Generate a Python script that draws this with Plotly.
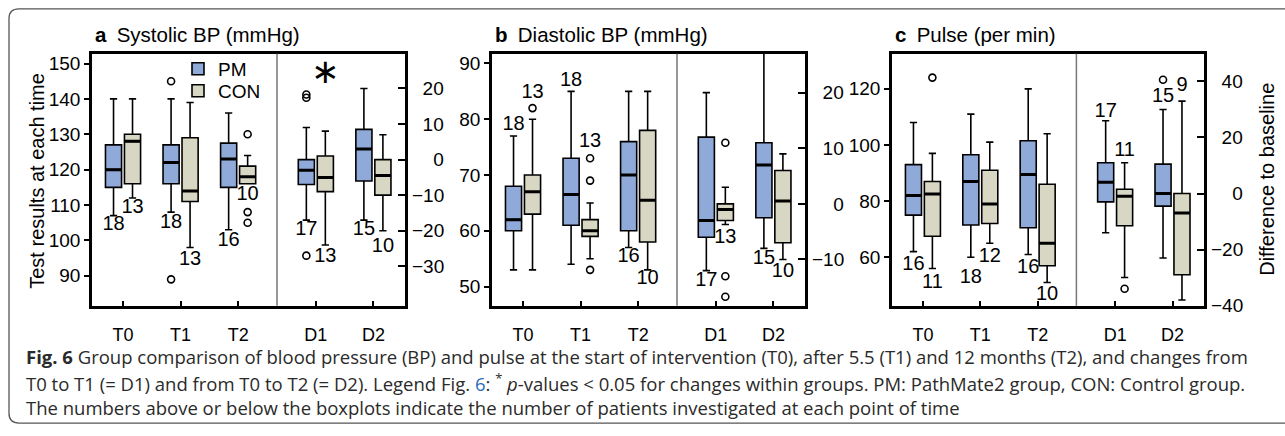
import plotly.graph_objects as go

W, H = 1285, 436

# ---------------- data ----------------
categories = ["T0", "T1", "T2", "D1", "D2"]
groups = ["PM", "CON"]

# Panel a: Systolic BP (mmHg); T0..T2 absolute, D1/D2 difference to baseline
sys_pm_low = [107, 108, 103, -17, -17]
sys_pm_q1 = [115, 116, 115, -7, -6]
sys_pm_med = [120, 122, 123, -3, 3]
sys_pm_q3 = [127, 127, 127.5, 0, 8.5]
sys_pm_high = [140, 140, 136, 9, 20]
sys_pm_out = [[], [145, 89], [], [18.3, 17.4, -27], []]
sys_pm_n = [18, 18, 16, 17, 15]

sys_con_low = [112, 98, 116, -24, -20]
sys_con_q1 = [116, 111, 116, -9, -10]
sys_con_med = [128, 114, 118, -5, -4.5]
sys_con_q3 = [130, 129, 121, 1, 0]
sys_con_high = [140, 139, 124, 8, 7]
sys_con_out = [[], [], [130, 108, 105], [], []]
sys_con_n = [13, 13, 10, 13, 10]

# Panel b: Diastolic BP (mmHg)
dia_pm_low = [53, 54, 57, -12, -8]
dia_pm_q1 = [60, 61, 60, -6, -2.5]
dia_pm_med = [62, 66.5, 70, -3, 7]
dia_pm_q3 = [68, 73, 76, 12, 11]
dia_pm_high = [77, 85, 85, 20, 32]
dia_pm_out = [[], [], [], [], []]
dia_pm_n = [18, 18, 16, 17, 15]

dia_con_low = [53, 55, 53, -3.7, -10]
dia_con_q1 = [63, 59, 58, -3, -7]
dia_con_med = [67, 60, 65.5, -1, 0.5]
dia_con_q3 = [70, 62, 78, 0, 6]
dia_con_high = [80, 65, 85, 3, 9]
dia_con_out = [[82], [73, 69, 53], [], [11, -13, -16.7], []]
dia_con_n = [13, 13, 10, 13, 10]

# Panel c: Pulse (per min)
pul_pm_low = [62, 60, 61, -14, -23]
pul_pm_q1 = [75, 71.5, 70.5, -3, -4.5]
pul_pm_med = [82, 87, 89.5, 4, 0]
pul_pm_q3 = [93, 96.5, 101.5, 11, 10.5]
pul_pm_high = [108, 111, 120, 26, 30]
pul_pm_out = [[], [], [], [], [40.6]]
pul_pm_n = [16, 18, 16, 17, 15]

pul_con_low = [56, 65, 51, -30, -38]
pul_con_q1 = [67.5, 72, 57, -11.5, -29]
pul_con_med = [82.5, 79, 65, -1, -7]
pul_con_q3 = [87, 91, 86, 1.5, 0]
pul_con_high = [97, 101, 104, 11, 33]
pul_con_out = [[124], [], [], [-34], []]
pul_con_n = [11, 12, 10, 11, 9]

# tick labels
sys_left_ticks = [90, 100, 110, 120, 130, 140, 150]
sys_right_ticks = [-30, -20, -10, 0, 10, 20]
dia_left_ticks = [50, 60, 70, 80, 90]
dia_right_ticks = [-10, 0, 10, 20]
pul_left_ticks = [60, 80, 100, 120]
pul_right_ticks = [-40, -20, 0, 20, 40]

# ---------------- placement of the "n" labels (axis units) ----------------
sys_pm_nlab_y = [104.4, 104.9, 99.8, -19.7, -19.7]
sys_con_nlab_y = [109.1, 94.6, 112.7, -27.5, -24.7]
dia_pm_nlab_y = [79.0, 86.8, 55.3, -13.9, -9.9]
dia_con_nlab_y = [84.7, 75.9, 51.3, -6.1, -12.2]
pul_pm_nlab_y = [57.4, 52.7, 56.3, 29.2, 34.5]
pul_con_nlab_y = [51.0, 60.0, 46.6, 15.0, 38.5]

# ---------------- layout / style ----------------
cat_pos = [1, 2, 3, 4.35, 5.35]
grp_off = [-0.165, 0.165]
box_w = 0.28
fills = ["#8fa9d9", "#d8d7c4"]
FONT = "Liberation Sans, Arial, Helvetica, sans-serif"
frame_px = [(92, 405), (492, 805), (892, 1204)]
frame_top, frame_bot = 55, 313
x_range = [0.461, 5.899]
divider_x = 3.675
left_ranges = [[81.52, 152.76], [46.55, 91.75], [42.7, 132.5]]
right_ranges = [[-41.1, 29.75], [-18.33, 27.0], [-40.1, 49.9]]
legend_y_px = [70.5, 93]

panels = [
    dict(title="Systolic BP (mmHg)", letter="a",
         grp=[(sys_pm_low, sys_pm_q1, sys_pm_med, sys_pm_q3, sys_pm_high, sys_pm_out, sys_pm_n, sys_pm_nlab_y),
              (sys_con_low, sys_con_q1, sys_con_med, sys_con_q3, sys_con_high, sys_con_out, sys_con_n, sys_con_nlab_y)],
         lt=sys_left_ticks, rt=sys_right_ticks),
    dict(title="Diastolic BP (mmHg)", letter="b",
         grp=[(dia_pm_low, dia_pm_q1, dia_pm_med, dia_pm_q3, dia_pm_high, dia_pm_out, dia_pm_n, dia_pm_nlab_y),
              (dia_con_low, dia_con_q1, dia_con_med, dia_con_q3, dia_con_high, dia_con_out, dia_con_n, dia_con_nlab_y)],
         lt=dia_left_ticks, rt=dia_right_ticks),
    dict(title="Pulse (per min)", letter="c",
         grp=[(pul_pm_low, pul_pm_q1, pul_pm_med, pul_pm_q3, pul_pm_high, pul_pm_out, pul_pm_n, pul_pm_nlab_y),
              (pul_con_low, pul_con_q1, pul_con_med, pul_con_q3, pul_con_high, pul_con_out, pul_con_n, pul_con_nlab_y)],
         lt=pul_left_ticks, rt=pul_right_ticks),
]


def fmt(v):
    s = str(abs(v))
    s = ("\u2212" + s) if v < 0 else s
    return "\u2007" * (3 - len(s)) + s


fig = go.Figure()
layout = dict(
    width=W, height=H, margin=dict(l=0, r=0, t=0, b=0),
    paper_bgcolor="white", plot_bgcolor="white",
    font=dict(family=FONT, size=19, color="black"),
    showlegend=True,
)
for g in range(2):
    lname = "legend" if g == 0 else "legend2"
    layout[lname] = dict(x=178 / W, y=1 - legend_y_px[g] / H, xanchor="left", yanchor="middle",
                         bgcolor="rgba(0,0,0,0)", font=dict(size=19), itemwidth=30)
shapes, annotations = [], []

for k, P in enumerate(panels):
    xid = "x" if k == 0 else f"x{k + 1}"
    yl = "y" if k == 0 else f"y{2 * k + 1}"
    yr = f"y{2 * k + 2}"
    xname = "xaxis" if k == 0 else f"xaxis{k + 1}"
    ylname = "yaxis" if k == 0 else f"yaxis{2 * k + 1}"
    yrname = f"yaxis{2 * k + 2}"
    L, R = frame_px[k]
    dom_x = [L / W, R / W]
    dom_y = [1 - frame_bot / H, 1 - frame_top / H]

    layout[xname] = dict(domain=dom_x, range=x_range, anchor=yl,
                         tickvals=cat_pos, ticktext=categories,
                         ticks="inside", ticklen=5, tickwidth=1.5, tickcolor="black",
                         showline=True, mirror=True, linewidth=2.5, linecolor="black",
                         showgrid=False, zeroline=False, fixedrange=True,
                         ticklabelstandoff=11,
                         tickfont=dict(size=18, family="Liberation Sans Narrow, Arial Narrow, " + FONT))
    layout[ylname] = dict(domain=dom_y, range=left_ranges[k], anchor=xid,
                          tickvals=P["lt"], ticktext=[str(v) for v in P["lt"]],
                          ticks="outside", ticklen=5, tickwidth=1.5, tickcolor="black",
                          showline=True, mirror=True, linewidth=2.5, linecolor="black",
                          showgrid=False, zeroline=False, fixedrange=True,
                          tickfont=dict(size=19))
    layout[yrname] = dict(range=right_ranges[k], anchor=xid, overlaying=yl, side="right",
                          tickvals=P["rt"], ticktext=[fmt(v) for v in P["rt"]],
                          ticks="inside", ticklen=7, tickwidth=1.5, tickcolor="black",
                          showline=False, showgrid=False, zeroline=False, fixedrange=True,
                          ticklabelstandoff=6, tickfont=dict(size=19))

    for g, (low, q1, med, q3, high, out, n, nly) in enumerate(P["grp"]):
        for part, idxs, yid in (("abs", [0, 1, 2], yl), ("diff", [3, 4], yr)):
            xs = [cat_pos[i] + grp_off[g] for i in idxs]
            fig.add_trace(go.Box(
                x=xs, q1=[q1[i] for i in idxs], median=[med[i] for i in idxs],
                q3=[q3[i] for i in idxs], lowerfence=[low[i] for i in idxs],
                upperfence=[high[i] for i in idxs],
                width=box_w, whiskerwidth=0.45, fillcolor=fills[g],
                line=dict(color="black", width=1.6), boxpoints=False,
                name=groups[g], legendgroup=groups[g],
                legend="legend" if g == 0 else "legend2",
                showlegend=(k == 0 and part == "abs"),
                xaxis=xid, yaxis=yid, hoverinfo="skip"))
            # thicker median bars
            mx, my = [], []
            for i in idxs:
                c = cat_pos[i] + grp_off[g]
                mx += [c - box_w / 2, c + box_w / 2, None]
                my += [med[i], med[i], None]
            fig.add_trace(go.Scatter(x=mx, y=my, mode="lines",
                                     line=dict(color="black", width=3),
                                     showlegend=False, hoverinfo="skip",
                                     xaxis=xid, yaxis=yid))
            # outliers
            ox, oy = [], []
            for i in idxs:
                for v in out[i]:
                    ox.append(cat_pos[i] + grp_off[g])
                    oy.append(v)
            if ox:
                fig.add_trace(go.Scatter(x=ox, y=oy, mode="markers",
                                         marker=dict(symbol="circle-open", size=7, color="black",
                                                     line=dict(width=1.6)),
                                         showlegend=False, hoverinfo="skip", cliponaxis=False,
                                         xaxis=xid, yaxis=yid))
            # n labels
            fig.add_trace(go.Scatter(x=xs, y=[nly[i] for i in idxs], mode="text",
                                     text=[str(n[i]) for i in idxs],
                                     textfont=dict(size=20, color="black"),
                                     textposition="middle center",
                                     showlegend=False, hoverinfo="skip", cliponaxis=False,
                                     xaxis=xid, yaxis=yid))

    # divider between absolute values and differences
    shapes.append(dict(type="line", xref=xid, yref=f"{yl} domain", x0=divider_x, x1=divider_x,
                       y0=0, y1=1, line=dict(color="#777777", width=1.5)))
    # panel title
    annotations.append(dict(text=f"<b>{P['letter']}</b>\u2002{P['title']}", xref="paper", yref="paper",
                            x=(L + 1) / W, y=1 - 35 / H, xanchor="left", yanchor="middle",
                            showarrow=False, font=dict(size=20.5)))

# significance marker (panel a, D1 CON)
annotations.append(dict(text="\u2217", xref="x", yref="y2", x=cat_pos[3] + grp_off[1], y=25,
                        showarrow=False, font=dict(size=34, family="DejaVu Sans"),
                        xanchor="center", yanchor="middle"))
# axis titles
annotations.append(dict(text="Test results at each time", xref="paper", yref="paper",
                        x=37 / W, y=1 - 185 / H, textangle=-90, showarrow=False,
                        xanchor="center", yanchor="middle", font=dict(size=20)))
annotations.append(dict(text="Difference to baseline", xref="paper", yref="paper",
                        x=1267 / W, y=1 - 184 / H, textangle=-90, showarrow=False,
                        xanchor="center", yanchor="middle", font=dict(size=20)))

# caption
CAP = "Open Sans, Noto Sans, sans-serif"
cap_lines = [
    "<b>Fig. 6</b> Group comparison of blood pressure (BP) and pulse at the start of intervention (T0), "
    "after 5.5 (T1) and 12 months (T2), and changes from",
    "T0 to T1 (= D1) and from T0 to T2 (= D2). Legend Fig. <span style='color:#2b6cb8'>6</span>: "
    "<sup>*</sup> <i>p</i>-values &lt; 0.05 for changes within groups. PM: PathMate2 group, CON: Control group.",
    "The numbers above or below the boxplots indicate the number of patients investigated at each point of time",
]
cap_y = [365, 391, 417]
for t, yy in zip(cap_lines, cap_y):
    annotations.append(dict(text=t, xref="paper", yref="paper", x=24 / W, y=1 - yy / H,
                            xanchor="left", yanchor="middle", showarrow=False,
                            font=dict(family=CAP, size=18.5, color="#2a2a2a")))

# rounded outer frame
def px(x, y):
    return f"{x / W:.5f},{1 - y / H:.5f}"

r = 10
path = (f"M {px(1300, 9)} L {px(9 + r, 9)} Q {px(9, 9)} {px(9, 9 + r)} "
        f"L {px(9, 433 - r)} Q {px(9, 433)} {px(9 + r, 433)} L {px(1300, 433)}")
shapes.append(dict(type="path", xref="paper", yref="paper", path=path,
                   line=dict(color="#555555", width=1.3)))

layout["shapes"] = shapes
layout["annotations"] = annotations
fig.update_layout(**layout)
fig.write_html("out.html")
